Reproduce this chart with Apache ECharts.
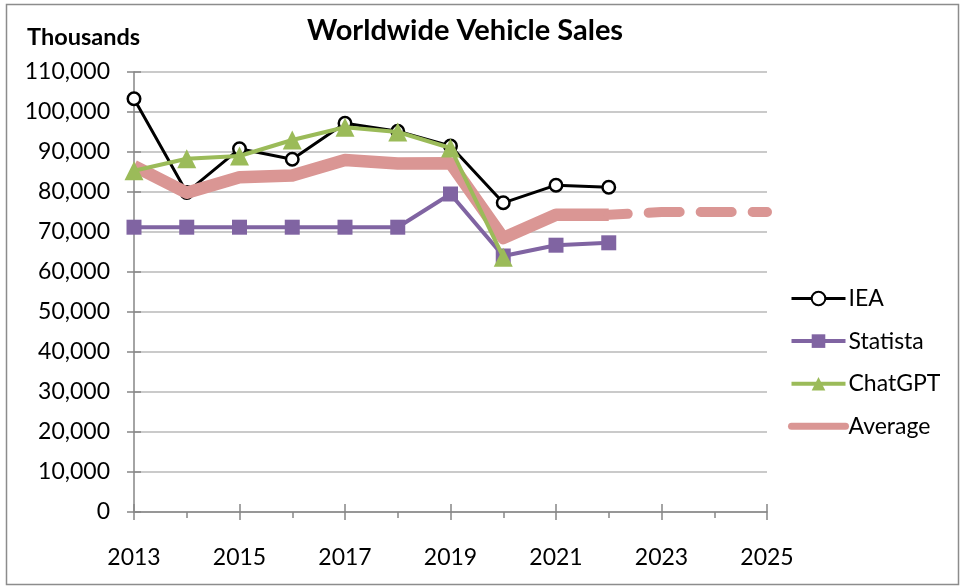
<!DOCTYPE html>
<html>
<head>
<meta charset="utf-8">
<script src="https://cdn.jsdelivr.net/npm/echarts@6/dist/echarts.min.js"></script>
<style>
html,body{margin:0;padding:0;background:#fff;}
#chart{width:966px;height:587px;}
</style>
</head>
<body>
<div id="chart"></div>
<script>
const years = [2013, 2014, 2015, 2016, 2017, 2018, 2019, 2020, 2021, 2022];
const forecastYears = [2022, 2023, 2024, 2025];
const iea = [103300, 79900, 90800, 88200, 97200, 95200, 91500, 77300, 81700, 81200];
const statista = [71200, 71200, 71200, 71200, 71200, 71200, 79500, 64000, 66700, 67300];
const chatgpt = [85300, 88300, 89000, 93000, 96200, 95000, 91000, 63700];
const average = [86500, 79800, 83700, 84100, 88000, 87100, 87200, 68500, 74300, 74300];
const forecast = [74300, 75000, 75000, 75000];

function pairs(xs, ys) { return ys.map((v, i) => [xs[i], v]); }

const FONT = 'Lato';
const chart = echarts.init(document.getElementById('chart'), null, {renderer: 'canvas'});
chart.setOption({
  animation: false,
  backgroundColor: '#fff',
  textStyle: {fontFamily: FONT},
  title: [
    {text: 'Worldwide Vehicle Sales', left: 302, top: 11,
     textStyle: {fontFamily: FONT, fontWeight: 'bold', fontSize: 29, color: '#000'}},
    {text: 'Thousands', left: 22, top: 20,
     textStyle: {fontFamily: FONT, fontWeight: 'bold', fontSize: 23.5, color: '#000'}}
  ],
  graphic: [{
    type: 'rect', shape: {x: 6.5, y: 4.5, width: 952, height: 580},
    style: {fill: 'none', stroke: '#8c8c8c', lineWidth: 1.5}, silent: true
  }],
  legend: {
    orient: 'vertical', left: 788, top: 286, padding: 0,
    itemWidth: 54, itemHeight: 17, itemGap: 17.6,
    data: [
      {name: 'IEA', lineStyle: {width: 3, color: '#000'}},
      {name: 'Statista', lineStyle: {width: 4, color: '#8064A2'}},
      {name: 'ChatGPT', lineStyle: {width: 4, color: '#9BBB59'}},
      {name: 'Average', lineStyle: {width: 7, color: '#DA9694', cap: 'round'}, itemStyle: {opacity: 0}}
    ],
    textStyle: {fontFamily: FONT, fontSize: 23, color: '#000', lineHeight: 25, padding: [0, 0, 0, -2]}
  },
  grid: {left: 134, right: 199, top: 72, bottom: 75},
  xAxis: [{
    type: 'value', min: 2013, max: 2025, interval: 2,
    axisLine: {lineStyle: {color: '#868686', width: 1.5}},
    axisTick: {show: true, length: 8, lineStyle: {color: '#868686', width: 1.5}},
    minorTick: {show: true, splitNumber: 2, length: 6, lineStyle: {color: '#868686', width: 1.5}},
    splitLine: {show: false},
    axisLabel: {fontFamily: FONT, fontSize: 23, color: '#000', margin: 34, formatter: v => String(v)}
  }, {
    type: 'value', min: 2013, max: 2025, interval: 2, position: 'bottom',
    axisLine: {show: false},
    axisTick: {show: true, inside: true, length: 8, lineStyle: {color: '#868686', width: 1.5}},
    axisLabel: {show: false}, splitLine: {show: false}
  }],
  yAxis: [{
    type: 'value', min: 0, max: 110000, interval: 10000,
    axisLine: {show: true, lineStyle: {color: '#868686', width: 1.5}},
    axisTick: {show: true, length: 7, lineStyle: {color: '#868686', width: 1.5}},
    splitLine: {show: true, lineStyle: {color: '#b8b8b8', width: 1.5}},
    axisLabel: {fontFamily: FONT, fontSize: 23, color: '#000', margin: 24,
                formatter: v => v.toLocaleString('en-US')}
  }, {
    type: 'value', min: 0, max: 110000, interval: 10000, position: 'left',
    axisLine: {show: false},
    axisTick: {show: true, inside: true, length: 7, lineStyle: {color: '#868686', width: 1.5}},
    axisLabel: {show: false}, splitLine: {show: false}
  }],
  series: [
    {name: 'IEA', type: 'line', z: 2, data: pairs(years, iea),
     symbol: 'circle', symbolSize: 12.5, showAllSymbol: true,
     lineStyle: {color: '#000', width: 3},
     itemStyle: {color: '#fff', borderColor: '#000', borderWidth: 2.5}},
    {name: 'Statista', type: 'line', z: 2, data: pairs(years, statista),
     symbol: 'rect', symbolSize: 15,
     lineStyle: {color: '#8064A2', width: 4},
     itemStyle: {color: '#8064A2', borderColor: '#8064A2', borderWidth: 0}},
    {name: 'Average', type: 'line', z: 3, data: pairs(years, average),
     symbol: 'none', color: '#DA9694',
     lineStyle: {color: '#DA9694', width: 12.5, join: 'round'},
     itemStyle: {color: '#DA9694'}},
    {name: 'Forecast', type: 'line', z: 3, data: pairs(forecastYears, forecast),
     symbol: 'none', clip: true,
     lineStyle: {color: '#DA9694', width: 10, type: [31, 21], dashOffset: 12, cap: 'round'}},
    {name: 'ChatGPT', type: 'line', z: 4, data: pairs(years.slice(0, chatgpt.length), chatgpt),
     symbol: 'triangle', symbolSize: 19,
     lineStyle: {color: '#9BBB59', width: 4},
     itemStyle: {color: '#9BBB59', borderWidth: 0}}
  ]
});
</script>
</body>
</html>
